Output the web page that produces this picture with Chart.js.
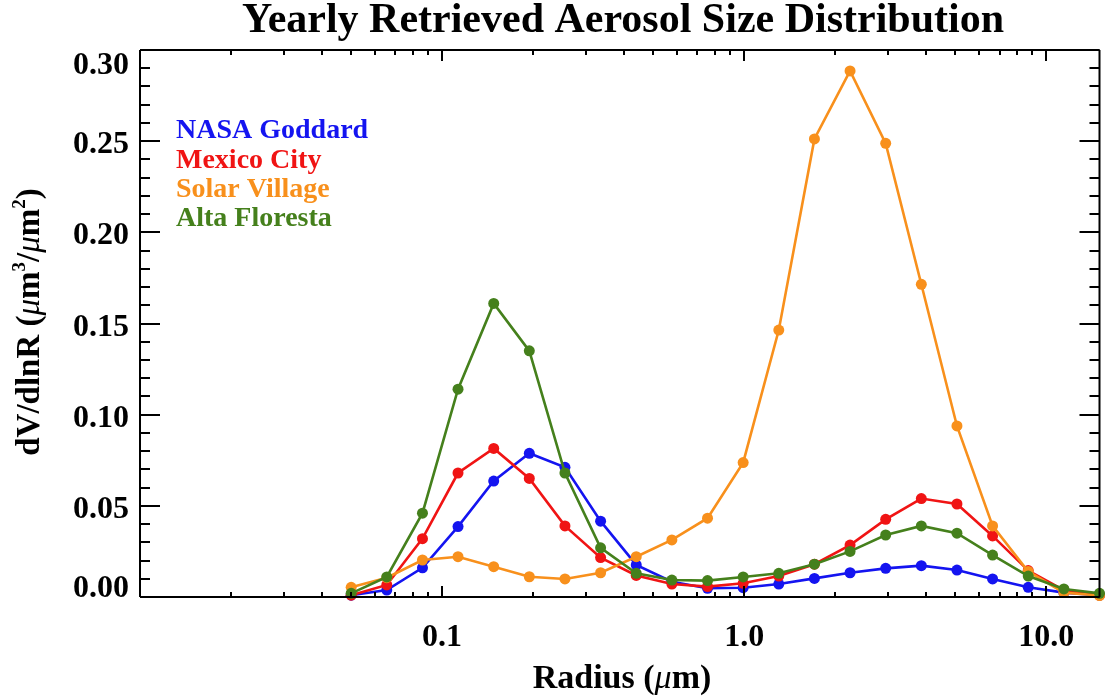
<!DOCTYPE html>
<html>
<head>
<meta charset="utf-8">
<script src="https://cdn.jsdelivr.net/npm/chart.js@4/dist/chart.umd.min.js"></script>
<style>
  html, body { margin: 0; padding: 0; background: #ffffff; overflow: hidden; }
  #wrap { width: 1105px; height: 700px; position: relative; }
</style>
</head>
<body>
<div id="wrap"><canvas id="c" width="1105" height="700"></canvas></div>
<script>
// Retrieval radius bins (µm), log-spaced from 0.05 to 15
const radius = [0.050, 0.0656, 0.0861, 0.1129, 0.1482, 0.1944, 0.2551, 0.3347,
                0.4392, 0.5762, 0.7561, 0.9920, 1.3016, 1.7078, 2.2407, 2.9400,
                3.8575, 5.0613, 6.6407, 8.7131, 11.4323, 15.000];

// Yearly mean dV/dlnR (µm³/µm²) per site
const nasaGoddard  = [0.0010, 0.0038, 0.0160, 0.0386, 0.0636, 0.0788, 0.0711, 0.0416,
                      0.0176, 0.0084, 0.0048, 0.0051, 0.0071, 0.0102, 0.0133, 0.0157,
                      0.0172, 0.0148, 0.0099, 0.0053, 0.0024, 0.0010];
const mexicoCity   = [0.0010, 0.0066, 0.0320, 0.0680, 0.0815, 0.0650, 0.0390, 0.0216,
                      0.0118, 0.0071, 0.0057, 0.0075, 0.0115, 0.0180, 0.0285, 0.0426,
                      0.0540, 0.0510, 0.0335, 0.0145, 0.0038, 0.0010];
const solarVillage = [0.0053, 0.0106, 0.0203, 0.0221, 0.0166, 0.0111, 0.0099, 0.0133,
                      0.0221, 0.0313, 0.0432, 0.0737, 0.1464, 0.2512, 0.2885, 0.2488,
                      0.1715, 0.0938, 0.0390, 0.0140, 0.0024, 0.0008];
const altaFloresta = [0.0020, 0.0110, 0.0460, 0.1140, 0.1610, 0.1350, 0.0680, 0.0270,
                      0.0130, 0.0093, 0.0090, 0.0110, 0.0130, 0.0180, 0.0250, 0.0340,
                      0.0390, 0.0350, 0.0230, 0.0115, 0.0044, 0.0020];

const siteNames  = ['NASA Goddard', 'Mexico City', 'Solar Village', 'Alta Floresta'];
const siteColors = ['#1414f0', '#f01414', '#f8901c', '#45801c'];

// Axis ticks
const xMajorTicks  = [0.1, 1, 10];
const xTickLabels  = ['0.1', '1.0', '10.0'];
const yMajorTicks  = [0.00, 0.05, 0.10, 0.15, 0.20, 0.25, 0.30];
const yTickLabels  = ['0.00', '0.05', '0.10', '0.15', '0.20', '0.25', '0.30'];

const X_MIN = 0.01, X_MAX = 15, Y_MIN = 0, Y_MAX = 0.30;

const FONT = '"Liberation Serif", "Times New Roman", serif';

function series(values) {
  return radius.map((r, i) => ({ x: r, y: values[i] }));
}

const allSeries = [nasaGoddard, mexicoCity, solarVillage, altaFloresta];
// Later sites are painted over earlier ones
const drawOrder = [3, 2, 1, 0];

const datasets = allSeries.map((vals, i) => ({
  label: siteNames[i],
  data: series(vals),
  borderColor: siteColors[i],
  backgroundColor: siteColors[i],
  pointBackgroundColor: siteColors[i],
  pointBorderColor: siteColors[i],
  pointRadius: 5.5,
  pointBorderWidth: 0,
  borderWidth: 2.6,
  tension: 0,
  clip: false,
  order: drawOrder[i]
}));

// Draws a run of text pieces with different fonts on one baseline
function drawRuns(ctx, runs, x, baseline, align) {
  let total = 0;
  runs.forEach(r => { ctx.font = r.font; r.w = ctx.measureText(r.text).width; total += r.w; });
  let cx = align === 'center' ? x - total / 2 : x;
  ctx.textAlign = 'left';
  ctx.textBaseline = 'alphabetic';
  runs.forEach(r => {
    ctx.font = r.font;
    ctx.fillText(r.text, cx, baseline + (r.dy || 0));
    cx += r.w;
  });
}

const framePlugin = {
  id: 'idlFrame',
  afterDraw(chart) {
    const { ctx, chartArea: a, scales } = chart;
    const xs = scales.x, ys = scales.y;
    ctx.save();
    ctx.strokeStyle = '#000';
    ctx.fillStyle = '#000';
    ctx.lineWidth = 2;
    ctx.lineCap = 'butt';

    // box
    ctx.beginPath();
    ctx.moveTo(a.left, a.top); ctx.lineTo(a.right, a.top);
    ctx.moveTo(a.left, a.top); ctx.lineTo(a.left, a.bottom);
    ctx.moveTo(a.left, a.bottom); ctx.lineTo(a.right, a.bottom);
    ctx.moveTo(a.right, a.top); ctx.lineTo(a.right, a.bottom);
    ctx.stroke();

    // y ticks (inward, left and right)
    ctx.beginPath();
    for (let i = 0; i <= 30; i++) {
      const py = Math.round(ys.getPixelForValue(i / 100));
      const len = (i % 5 === 0) ? 20 : 10;
      ctx.moveTo(a.left, py); ctx.lineTo(a.left + len, py);
      ctx.moveTo(a.right, py); ctx.lineTo(a.right - len, py);
    }
    // x ticks (inward, bottom and top)
    for (let d = X_MIN; d < X_MAX; d *= 10) {
      for (let k = 1; k <= 9; k++) {
        const v = k * d;
        if (v > X_MAX) break;
        const px = Math.round(xs.getPixelForValue(v));
        const len = (k === 1) ? 11 : 5;
        ctx.moveTo(px, a.bottom); ctx.lineTo(px, a.bottom - len);
        ctx.moveTo(px, a.top); ctx.lineTo(px, a.top + len);
      }
    }
    ctx.stroke();

    // tick labels
    ctx.font = 'bold 32px ' + FONT;
    ctx.textAlign = 'right';
    ctx.textBaseline = 'alphabetic';
    yMajorTicks.forEach((v, i) => {
      const py = ys.getPixelForValue(v);
      let base = py + 12;
      if (i === 0) base = a.bottom;
      if (i === yMajorTicks.length - 1) base = a.top + 24;
      ctx.fillText(yTickLabels[i], a.left - 11, base);
    });
    ctx.textAlign = 'center';
    xMajorTicks.forEach((v, i) => {
      ctx.fillText(xTickLabels[i], xs.getPixelForValue(v), a.bottom + 49);
    });

    // title
    ctx.font = 'bold 42px ' + FONT;
    ctx.textAlign = 'center';
    ctx.fillText('Yearly Retrieved Aerosol Size Distribution', 623, 32);

    // x axis title
    const B = 'bold 34px ' + FONT, I = 'italic 34px ' + FONT, S = 'bold 20px ' + FONT;
    drawRuns(ctx, [
      { text: 'Radius (', font: B },
      { text: 'μ', font: I },
      { text: 'm)', font: B }
    ], 622, 688, 'center');

    // y axis title
    const B2 = 'bold 33px ' + FONT, I2 = 'italic 33px ' + FONT, S2 = 'bold 19px ' + FONT;
    ctx.save();
    ctx.translate(39, 322);
    ctx.rotate(-Math.PI / 2);
    drawRuns(ctx, [
      { text: 'dV/dlnR (', font: B2 },
      { text: 'μ', font: I2 },
      { text: 'm', font: B2 },
      { text: '3', font: S2, dy: -14 },
      { text: '/', font: B2 },
      { text: 'μ', font: I2 },
      { text: 'm', font: B2 },
      { text: '2', font: S2, dy: -14 },
      { text: ')', font: B2 }
    ], 0, 0, 'center');
    ctx.restore();

    // site key
    ctx.font = 'bold 28px ' + FONT;
    ctx.textAlign = 'left';
    const keyBase = [138, 167.5, 197, 226];
    siteNames.forEach((n, i) => {
      ctx.fillStyle = siteColors[i];
      ctx.fillText(n, 176, keyBase[i]);
    });
    ctx.restore();
  }
};

new Chart(document.getElementById('c'), {
  type: 'line',
  data: { datasets },
  options: {
    responsive: false,
    devicePixelRatio: 1,
    animation: false,
    layout: { padding: { left: 140, top: 50, right: 1, bottom: 103 } },
    scales: {
      x: { type: 'logarithmic', min: X_MIN, max: X_MAX, display: false },
      y: { type: 'linear', min: Y_MIN, max: Y_MAX, display: false }
    },
    plugins: {
      legend: { display: false },
      title: { display: false },
      tooltip: { enabled: false }
    }
  },
  plugins: [framePlugin]
});
</script>
</body>
</html>
